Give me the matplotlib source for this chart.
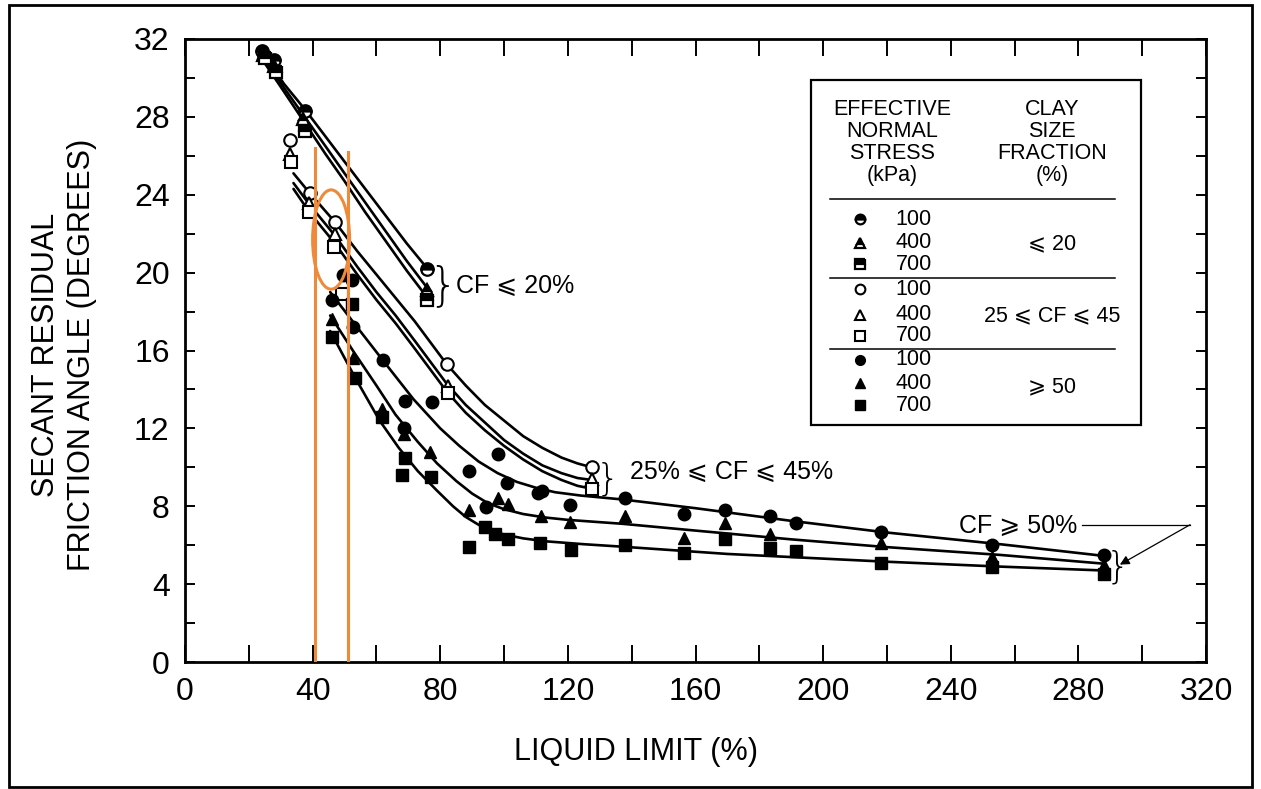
import matplotlib
matplotlib.use("Agg")
import matplotlib.pyplot as plt
from matplotlib.patches import Ellipse, Rectangle
from matplotlib.lines import Line2D
from matplotlib.ticker import MultipleLocator, FuncFormatter

plt.rcParams['font.family'] = ['Liberation Sans', 'DejaVu Sans']

# ---------------- measured points: liquid limit (%) / secant residual angle (deg)
# clay fraction <= 20 %
cf20_ll_100 = [24, 28, 37.5, 76]
cf20_phi_100 = [31.4, 30.9, 28.3, 20.2]
cf20_ll_400 = [24.5, 28, 37, 76]
cf20_phi_400 = [31.2, 30.6, 27.9, 19.1]
cf20_ll_700 = [25, 28.5, 37.5, 76]
cf20_phi_700 = [31.0, 30.3, 27.3, 18.6]

# 25 <= clay fraction <= 45 %
cf45_ll_100 = [33, 39.2, 47, 82, 127.5]
cf45_phi_100 = [26.8, 24.1, 22.6, 15.3, 10.0]
cf45_ll_400 = [33, 39, 47, 82.5, 127.5]
cf45_phi_400 = [26.1, 23.6, 22.0, 14.2, 9.4]
cf45_ll_700 = [33.2, 38.8, 46.7, 49.3, 82.5, 127.5]
cf45_phi_700 = [25.7, 23.1, 21.3, 18.9, 13.8, 8.9]

# clay fraction >= 50 %
cf50_ll_100 = [46, 49.5, 52.3, 52.8, 62.2, 68.5, 69, 77.3, 89, 94.4, 98, 101,
               110.5, 112, 120.7, 137.9, 156.5, 169.3, 183.4, 191.5, 218, 253, 288]
cf50_phi_100 = [18.6, 19.9, 19.6, 17.2, 15.5, 12.0, 13.4, 13.35, 9.8, 7.95, 10.7, 9.2,
                8.7, 8.8, 8.05, 8.4, 7.6, 7.8, 7.5, 7.15, 6.7, 6.0, 5.5]
cf50_ll_400 = [46, 52.5, 61.7, 68.5, 76.8, 89.1, 98.2, 101.3, 111.5, 120.7,
               137.9, 156.5, 169.3, 183.4, 218, 253, 288]
cf50_phi_400 = [17.6, 15.6, 13.0, 11.7, 10.8, 7.8, 8.4, 8.1, 7.5, 7.2,
                7.5, 6.35, 7.15, 6.6, 6.1, 5.4, 5.0]
cf50_ll_700 = [46, 52.3, 53.3, 61.7, 69, 67.9, 77, 89.1, 94, 97.2, 101.1, 111.3,
               120.9, 137.9, 156.5, 169.3, 183.4, 191.5, 218, 253, 288]
cf50_phi_700 = [16.7, 18.4, 14.6, 12.6, 10.5, 9.6, 9.5, 5.9, 6.95, 6.6, 6.3, 6.1,
                5.75, 6.0, 5.6, 6.3, 5.85, 5.7, 5.1, 4.9, 4.5]

# ---------------- hand-fitted trend lines
fit20_ll = [24, 31, 37.5, 44, 50, 56.5, 63, 69.5, 76]
fit20_100 = [31.4, 29.7, 28.4, 27.0, 25.7, 24.3, 22.9, 21.5, 20.2]
fit20_400 = [31.2, 29.5, 28.0, 26.5, 25.1, 23.6, 22.1, 20.6, 19.2]
fit20_700 = [31.0, 29.3, 27.7, 26.1, 24.7, 23.1, 21.6, 20.1, 18.7]

fit45_ll = [34, 39, 47, 54, 60, 66, 72, 77, 82, 88, 94, 100, 106, 112, 118, 123, 127.5]
fit45_100 = [25.1, 24.1, 22.6, 21.1, 19.9, 18.7, 17.5, 16.4, 15.3, 14.2, 13.2, 12.4,
             11.6, 11.0, 10.5, 10.2, 10.0]
fit45_400 = [24.6, 23.5, 21.9, 20.3, 19.0, 17.8, 16.5, 15.4, 14.3, 13.2, 12.3, 11.4,
             10.7, 10.1, 9.7, 9.45, 9.35]
fit45_700 = [24.3, 23.1, 21.5, 19.9, 18.6, 17.4, 16.1, 15.0, 13.9, 12.8, 11.9, 11.1,
             10.4, 9.8, 9.35, 9.05, 8.9]

fit50_ll_100 = [45.5, 53, 62, 71.6, 80, 86, 92, 98, 104, 110, 116, 124, 137, 160, 190,
                220, 255.5, 288]
fit50_100 = [19.0, 17.4, 15.5, 13.5, 12.0, 11.1, 10.3, 9.7, 9.25, 8.95, 8.72, 8.55, 8.35,
             7.9, 7.25, 6.65, 6.05, 5.45]
fit50_ll_400 = [45.5, 53, 60, 66, 73, 79, 85, 90, 95, 100, 106, 113, 120, 137, 160, 190,
                220, 255.5, 288]
fit50_400 = [17.8, 15.9, 14.2, 12.7, 11.3, 10.2, 9.3, 8.65, 8.15, 7.85, 7.6, 7.42, 7.3,
             7.1, 6.75, 6.3, 5.9, 5.5, 5.05]
fit50_ll_700 = [45.5, 53, 61, 67, 73, 79, 84, 88, 92, 96, 100, 106, 113, 125, 136.4, 170,
                220, 255.5, 288]
fit50_700 = [17.0, 14.7, 12.4, 11.0, 9.8, 8.8, 8.0, 7.45, 7.05, 6.75, 6.55, 6.35, 6.2,
             6.05, 5.93, 5.55, 5.15, 4.9, 4.7]

# highlighted liquid-limit band
band_ll = [40.6, 51.2]
band_top = [26.4, 26.2]
band_ellipse = (45.8, 21.7, 11.6, 5.1)   # centre ll, centre phi, width, height

stress_labels = ['100', '400', '700']
cf_labels = ['\u2a7d 20', '25 \u2a7d CF \u2a7d 45', '\u2a7e 50']

W, H = 1261, 789
fig = plt.figure(figsize=(W / 100, H / 100), dpi=100)
ax = fig.add_axes([185 / W, 1 - 662 / H, 1021 / W, 623 / H])

BLACK = 'black'
ORANGE = '#ee8a3a'
LW = 1.9

# trend lines
for xs, ys in [(fit20_ll, fit20_100), (fit20_ll, fit20_400), (fit20_ll, fit20_700),
               (fit45_ll, fit45_100), (fit45_ll, fit45_400), (fit45_ll, fit45_700),
               (fit50_ll_100, fit50_100), (fit50_ll_400, fit50_400), (fit50_ll_700, fit50_700)]:
    ax.plot(xs, ys, color=BLACK, lw=LW, solid_capstyle='round', solid_joinstyle='round',
            zorder=2)

shapes = ['o', '^', 's']
half = dict(fillstyle='top', markerfacecolor=BLACK, markerfacecoloralt='white',
            markeredgecolor=BLACK, markeredgewidth=1.6)
hollow = dict(markerfacecolor='white', markeredgecolor=BLACK, markeredgewidth=1.5)
solid = dict(markerfacecolor=BLACK, markeredgecolor=BLACK, markeredgewidth=1.0)

groups = [
    ([(cf20_ll_100, cf20_phi_100), (cf20_ll_400, cf20_phi_400), (cf20_ll_700, cf20_phi_700)], half),
    ([(cf45_ll_100, cf45_phi_100), (cf45_ll_400, cf45_phi_400), (cf45_ll_700, cf45_phi_700)], hollow),
    ([(cf50_ll_100, cf50_phi_100), (cf50_ll_400, cf50_phi_400), (cf50_ll_700, cf50_phi_700)], solid),
]
for series, style in groups:
    for (xs, ys), m in zip(series, shapes):
        ax.plot(xs, ys, linestyle='none', marker=m, markersize=9 if m != 's' else 8.5,
                zorder=3, **style)

# highlight band
for xv, top in zip(band_ll, band_top):
    ax.plot([xv, xv], [0, top], color=ORANGE, lw=2.2, zorder=4)
ax.add_patch(Ellipse(band_ellipse[:2], band_ellipse[2], band_ellipse[3],
                     fill=False, edgecolor=ORANGE, lw=2.2, zorder=4))

# group braces and labels
brace_kw = dict(fontweight='light', ha='center', va='center',
                family=['DejaVu Sans'], color=BLACK)
ax.text(80.8, 19.3, '}', fontsize=33, **brace_kw)
ax.text(84.8, 19.3, 'CF \u2a7d 20%', fontsize=18, ha='left', va='center')
ax.text(132.3, 9.4, '}', fontsize=27, **brace_kw)
ax.text(139.5, 9.75, '25% \u2a7d CF \u2a7d 45%', fontsize=18, ha='left', va='center')
ax.text(292.2, 4.9, '}', fontsize=27, **brace_kw)
ax.text(242.5, 7.0, 'CF \u2a7e 50%', fontsize=18, ha='left', va='center')
ax.plot([281, 315], [7.05, 7.05], color=BLACK, lw=0.9)
ax.annotate('', xy=(293.0, 5.0), xytext=(315, 7.05),
            arrowprops=dict(arrowstyle='-|>', color=BLACK, lw=0.9,
                            mutation_scale=14, shrinkA=0, shrinkB=0))

# axes, ticks
ax.set_xlim(0, 320)
ax.set_ylim(0, 32)
ax.xaxis.set_major_locator(MultipleLocator(20))
ax.yaxis.set_major_locator(MultipleLocator(2))
ax.xaxis.set_major_formatter(FuncFormatter(lambda v, p: f'{v:.0f}' if round(v) % 40 == 0 else ''))
ax.yaxis.set_major_formatter(FuncFormatter(lambda v, p: f'{v:.0f}' if round(v) % 4 == 0 else ''))
ax.tick_params(axis='x', direction='in', length=12, width=1.4, top=True, bottom=True,
               labelsize=23, pad=11)
ax.tick_params(axis='y', direction='in', length=7, width=1.4, left=True, right=True,
               labelsize=23, pad=11)
for s in ax.spines.values():
    s.set_linewidth(2.0)

ax.text(0.4417, -0.145, 'LIQUID LIMIT (%)', transform=ax.transAxes, fontsize=22,
        ha='center', va='center')
ax.text(-0.1185, 0.493, 'SECANT RESIDUAL\nFRICTION ANGLE (DEGREES)', transform=ax.transAxes,
        fontsize=22, rotation=90, ha='center', va='center', multialignment='center',
        linespacing=1.25)

# key table
ax.add_patch(Rectangle((0.613, 0.380), 0.323, 0.554, transform=ax.transAxes,
                       fill=False, edgecolor=BLACK, lw=1.6, zorder=5))
ax.text(0.693, 0.834, 'EFFECTIVE\nNORMAL\nSTRESS\n(kPa)', transform=ax.transAxes,
        fontsize=15.5, ha='center', va='center', multialignment='center', linespacing=1.05)
ax.text(0.849, 0.834, 'CLAY\nSIZE\nFRACTION\n(%)', transform=ax.transAxes,
        fontsize=15.5, ha='center', va='center', multialignment='center', linespacing=1.05)
for yy in [0.743, 0.616, 0.502]:
    ax.add_line(Line2D([0.632, 0.911], [yy, yy], transform=ax.transAxes, color=BLACK, lw=1.1))

row_y = [0.7106, 0.6731, 0.6388, 0.5982, 0.557, 0.5233, 0.4848, 0.4474, 0.4125]
group_y = [0.671, 0.555, 0.442]
styles = [half, hollow, solid]
for g in range(3):
    for k in range(3):
        yy = row_y[3 * g + k]
        ax.plot([0.661], [yy], transform=ax.transAxes, linestyle='none', marker=shapes[k],
                markersize=7, zorder=6, clip_on=False, **styles[g])
        ax.text(0.696, yy, stress_labels[k], transform=ax.transAxes, fontsize=15.5,
                ha='left', va='center')
    ax.text(0.849, group_y[g], cf_labels[g], transform=ax.transAxes, fontsize=15.5,
            ha='center', va='center')

# page frame
fig.add_artist(Rectangle((9 / W, 1 - 787 / H), (1252 - 9) / W, (787 - 5) / H,
                         transform=fig.transFigure, fill=False, edgecolor=BLACK, lw=2.0))

fig.savefig('out.png', dpi=100)
